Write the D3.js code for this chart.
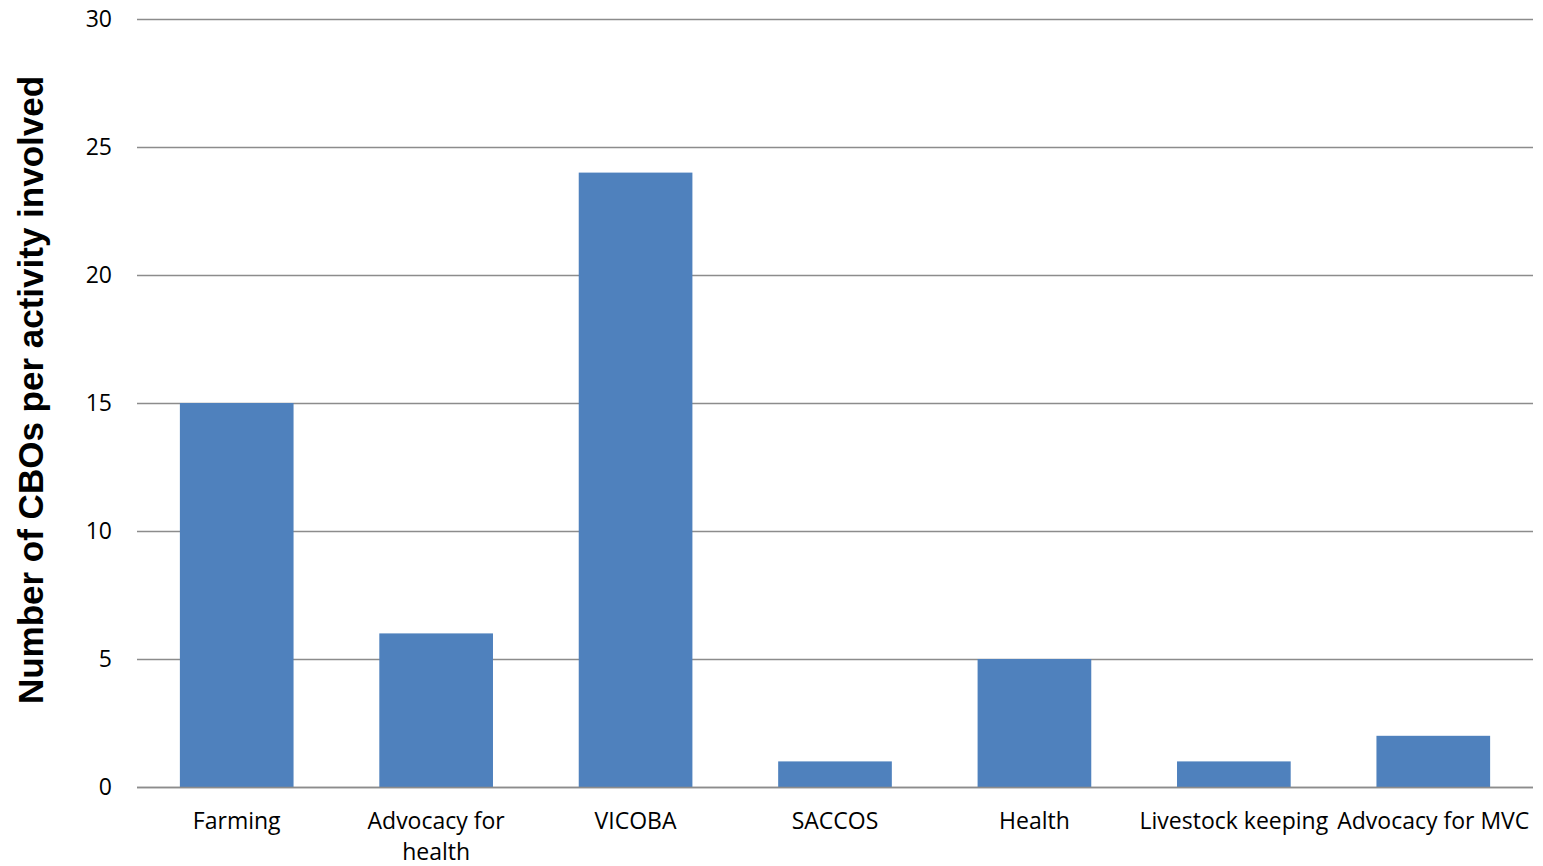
<!DOCTYPE html>
<html>
<head>
<meta charset="utf-8">
<script src="https://cdn.jsdelivr.net/npm/d3@7"></script>
<style>
  body { margin: 0; background: #fff; }
</style>
</head>
<body>
<div id="chart-area"></div>
<script>
const categories = ["Farming", "Advocacy for health", "VICOBA", "SACCOS", "Health", "Livestock keeping", "Advocacy for MVC"];
const labelLines = [["Farming"], ["Advocacy for", "health"], ["VICOBA"], ["SACCOS"], ["Health"], ["Livestock keeping"], ["Advocacy for MVC"]];
const values = [15, 6, 24, 1, 5, 1, 2];
const yTicks = [0, 5, 10, 15, 20, 25, 30];

const svgWidth = 1543, svgHeight = 866;
const plot = { left: 137, right: 1533, top: 19, bottom: 787 };

const svg = d3.select("#chart-area")
  .append("svg")
    .attr("width", svgWidth)
    .attr("height", svgHeight);

const x = d3.scaleBand()
  .domain(categories)
  .range([plot.left, plot.right])
  .paddingInner(0.43)
  .paddingOuter(0.215);

const y = d3.scaleLinear()
  .domain([0, 30])
  .range([plot.bottom, plot.top]);

// gridlines
svg.append("g")
  .selectAll("line")
  .data(yTicks)
  .enter()
  .append("line")
    .attr("x1", plot.left)
    .attr("x2", plot.right)
    .attr("y1", d => Math.round(y(d)) + 0.5)
    .attr("y2", d => Math.round(y(d)) + 0.5)
    .attr("stroke", "#8c8c8c")
    .attr("stroke-width", 1.3);

// y tick labels
svg.append("g")
  .selectAll("text")
  .data(yTicks)
  .enter()
  .append("text")
    .text(d => d)
    .attr("x", 112)
    .attr("y", d => y(d))
    .attr("dy", "0.35em")
    .attr("text-anchor", "end")
    .attr("font-family", "Open Sans")
    .attr("font-size", 23)
    .attr("fill", "#000");

// bars
svg.append("g")
  .selectAll("rect")
  .data(values)
  .enter()
  .append("rect")
    .attr("x", (d, i) => x(categories[i]))
    .attr("y", d => y(d))
    .attr("width", x.bandwidth())
    .attr("height", d => y(0) - y(d))
    .attr("fill", "#4f81bd");

// baseline redrawn over bars
svg.append("line")
  .attr("x1", plot.left)
  .attr("x2", plot.right)
  .attr("y1", Math.round(y(0)) + 0.5)
  .attr("y2", Math.round(y(0)) + 0.5)
  .attr("stroke", "#8c8c8c")
  .attr("stroke-width", 1.3);

// x labels
const xLabels = svg.append("g")
  .selectAll("text")
  .data(categories)
  .enter()
  .append("text")
    .attr("x", d => x(d) + x.bandwidth() / 2)
    .attr("y", 829)
    .attr("text-anchor", "middle")
    .attr("font-family", "Open Sans")
    .attr("font-size", 23)
    .attr("fill", "#000");

xLabels.each(function (d, i) {
  const t = d3.select(this);
  labelLines[i].forEach((line, j) => {
    t.append("tspan")
      .attr("x", x(d) + x.bandwidth() / 2)
      .attr("dy", j === 0 ? 0 : 31)
      .text(line);
  });
});

// y axis title
svg.append("text")
  .text("Number of CBOs per activity involved")
  .attr("transform", "translate(43,390) rotate(-90)")
  .attr("text-anchor", "middle")
  .attr("font-family", "Liberation Sans")
  .attr("font-weight", 700)
  .attr("font-size", 35)
  .attr("fill", "#000");
</script>
</body>
</html>
